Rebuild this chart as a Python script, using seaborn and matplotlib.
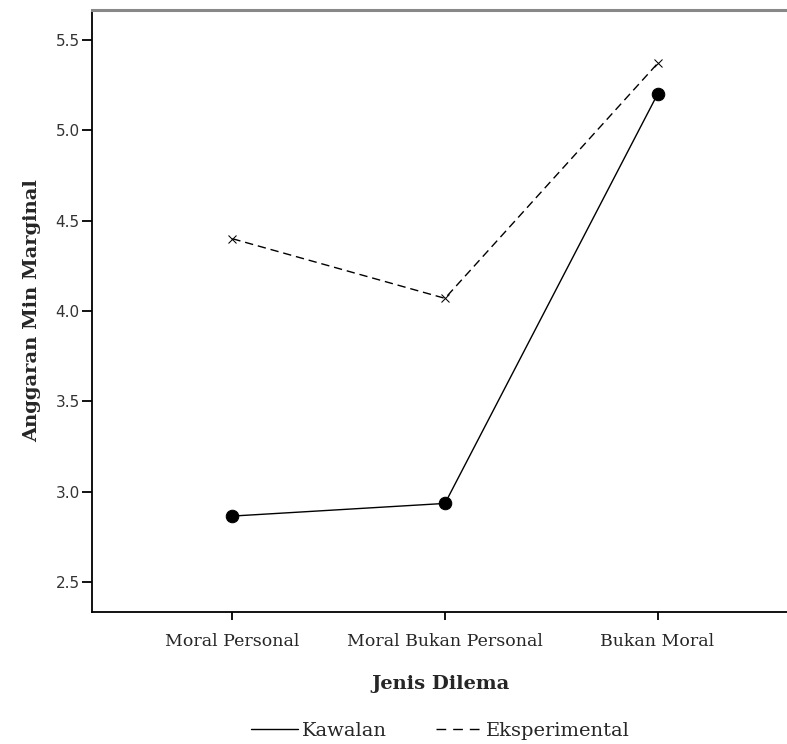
import pandas as pd
import seaborn as sns
import matplotlib
matplotlib.use('Agg')
import matplotlib.pyplot as plt
from matplotlib.lines import Line2D

# Estimated marginal means
dilema = ['Moral Personal', 'Moral Bukan Personal', 'Bukan Moral']
kawalan = [2.865, 2.935, 5.20]
eksperimental = [4.40, 4.07, 5.37]
groups = ['Kawalan', 'Eksperimental']

df = pd.DataFrame({'dilema': dilema * 2,
                   'min': kawalan + eksperimental,
                   'kumpulan': ['Kawalan'] * 3 + ['Eksperimental'] * 3})

sns.set_style('white')
plt.rcParams['font.family'] = 'DejaVu Serif'

fig, ax = plt.subplots(figsize=(7.87, 7.44), dpi=100)
fig.subplots_adjust(left=0.117, right=1.003, top=0.9866, bottom=0.1774)

sns.pointplot(data=df, x='dilema', y='min', hue='kumpulan', hue_order=groups,
              order=dilema, palette=['black', 'black'], markers=['o', 'x'],
              linestyles=['-', (0, (6, 3.5))], errorbar=None, ax=ax,
              linewidth=1.0, legend=False)

# marker sizes differ between the two series
for line, ms in zip(ax.lines, [9, 6]):
    line.set_markersize(ms)

ax.set_xlim(-0.66, 2.62)
ax.set_ylim(2.334, 5.666)
ax.set_yticks([2.5, 3.0, 3.5, 4.0, 4.5, 5.0, 5.5])
ax.set_yticklabels(['2.5', '3.0', '3.5', '4.0', '4.5', '5.0', '5.5'],
                   family='DejaVu Sans', fontsize=11, color='#333333')
ax.tick_params(axis='x', labelsize=12.5, length=6, width=1.3, color='black', pad=9)
ax.tick_params(axis='y', length=7, width=1.3, color='black', pad=2)
ax.tick_params(bottom=True, left=True)

for side in ['left', 'bottom']:
    ax.spines[side].set_color('black')
    ax.spines[side].set_linewidth(1.3)
ax.spines['top'].set_color('#888888')
ax.spines['top'].set_linewidth(2.2)
ax.spines['right'].set_visible(False)

ax.set_xlabel('Jenis Dilema', fontsize=14, fontweight='bold', labelpad=18)
ax.set_ylabel('Anggaran Min Marginal', fontsize=14, fontweight='bold', labelpad=10)

handles = [Line2D([], [], color='black', linestyle='-', linewidth=1.0),
           Line2D([], [], color='black', linestyle=(0, (7, 5)), linewidth=1.0)]
fig.legend(handles, groups, loc='lower center', bbox_to_anchor=(0.56, -0.018),
           ncol=2, frameon=False, fontsize=14, handlelength=2.4,
           handletextpad=0.2, columnspacing=2.5)

plt.savefig('out.png', dpi=100)
